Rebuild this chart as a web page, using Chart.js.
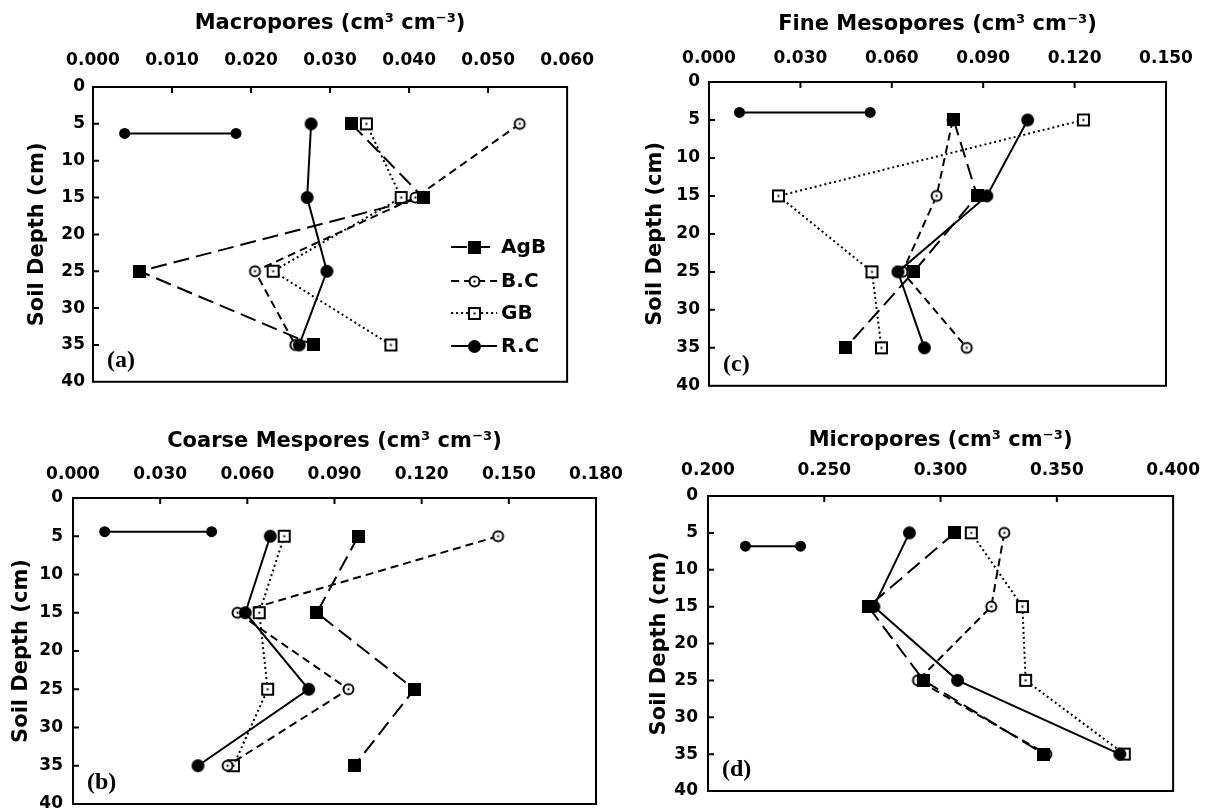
<!DOCTYPE html>
<html>
<head>
<meta charset="utf-8">
<script src="https://cdn.jsdelivr.net/npm/chart.js"></script>
<style>
  body { margin: 0; background: #fff; }
  #wrap { position: relative; width: 1215px; height: 811px; overflow: hidden; background: #fff; }
  canvas { position: absolute; }
</style>
</head>
<body>
<div id="wrap">
  <canvas id="macro"></canvas>
  <canvas id="fine"></canvas>
  <canvas id="coarse"></canvas>
  <canvas id="micro"></canvas>
</div>
<script>
// profundidades (cm) e nomes das séries
const depths = [5, 15, 25, 35];
const serieNames = ['AgB', 'B.C', 'GB', 'R.C'];

// (a) macroporos
const macroAgB = [0.0327, 0.0418, 0.0059, 0.0279];
const macroBC  = [0.0540, 0.0408, 0.0205, 0.0256];
const macroGB  = [0.0346, 0.0390, 0.0228, 0.0377];
const macroRC  = [0.0276, 0.0271, 0.0296, 0.0261];
const macroBar = [0.0040, 0.0181]; // barra LSD
const macroBarDepth = 6.3;

// (b) mesoporos grossos
const coarseAgB = [0.0982, 0.0839, 0.1175, 0.0968];
const coarseBC  = [0.1463, 0.0566, 0.0948, 0.0532];
const coarseGB  = [0.0727, 0.0641, 0.0670, 0.0552];
const coarseRC  = [0.0679, 0.0593, 0.0811, 0.0430];
const coarseBar = [0.0109, 0.0477];
const coarseBarDepth = 4.4;

// (c) mesoporos finos
const fineAgB = [0.0803, 0.0880, 0.0672, 0.0448];
const fineBC  = [0.0800, 0.0747, 0.0635, 0.0846];
const fineGB  = [0.1229, 0.0228, 0.0535, 0.0566];
const fineRC  = [0.1046, 0.0912, 0.0620, 0.0707];
const fineBar = [0.0100, 0.0529];
const fineBarDepth = 4.0;

// (d) microporos
const microAgB = [0.3061, 0.2689, 0.2927, 0.3444];
const microBC  = [0.3274, 0.3218, 0.2903, 0.3455];
const microGB  = [0.3132, 0.3352, 0.3366, 0.3790];
const microRC  = [0.2866, 0.2713, 0.3073, 0.3771];
const microBar = [0.2161, 0.2398];
const microBarDepth = 6.8;

const fonteEixo = "'DejaVu Sans', Arial, sans-serif";

// marcadores desenhados num canvas pequeno (usado como pointStyle)
function makeMarker(kind) {
  const c = document.createElement('canvas');
  const s = kind === 'fsq' ? 13 : 15;
  c.width = s; c.height = s;
  const g = c.getContext('2d');
  const m = s / 2;
  g.fillStyle = '#000'; g.strokeStyle = '#000'; g.lineWidth = 2;
  if (kind === 'fsq') {
    g.fillRect(0, 0, 13, 13);
  } else if (kind === 'fcirc') {
    g.beginPath(); g.arc(m, m, 6.5, 0, Math.PI * 2); g.fill();
  } else if (kind === 'ocirc') {
    g.beginPath(); g.arc(m, m, 5, 0, Math.PI * 2);
    g.fillStyle = '#fff'; g.fill(); g.stroke();
    g.fillStyle = '#000'; g.fillRect(m - 1, m - 1, 2, 2);
  } else if (kind === 'osq') {
    g.fillStyle = '#fff'; g.fillRect(2, 2, 11, 11);
    g.strokeRect(2, 2, 11, 11);
    g.fillStyle = '#000'; g.fillRect(m - 1, m - 1, 2, 2);
  }
  return c;
}

const markers = { fsq: makeMarker('fsq'), ocirc: makeMarker('ocirc'), osq: makeMarker('osq'), fcirc: makeMarker('fcirc') };

// estilo de cada série: marcador, tracejado, ordem de desenho
const estilos = [
  { marker: 'fsq',   dash: [16, 7], order: 0 }, // AgB
  { marker: 'ocirc', dash: [8, 5],  order: 2 }, // B.C
  { marker: 'osq',   dash: [2, 3],  order: 3 }, // GB
  { marker: 'fcirc', dash: [],      order: 1 }  // R.C
];

// moldura, ticks para dentro, letra do painel e legenda
const molduraPlugin = {
  id: 'moldura',
  afterDatasetsDraw(chart, args, opts) {
    const { ctx, chartArea: a, scales } = chart;
    ctx.save();
    ctx.strokeStyle = '#000';
    ctx.lineWidth = 2;
    ctx.setLineDash([]);
    ctx.strokeRect(a.left, a.top, a.right - a.left, a.bottom - a.top);

    ctx.beginPath();
    scales.x.ticks.forEach(t => {
      const px = scales.x.getPixelForValue(t.value);
      if (px > a.left + 3 && px < a.right - 3) { ctx.moveTo(px, a.top); ctx.lineTo(px, a.top + 6); }
    });
    scales.y.ticks.forEach(t => {
      const py = scales.y.getPixelForValue(t.value);
      if (py > a.top + 3 && py < a.bottom - 3) { ctx.moveTo(a.left, py); ctx.lineTo(a.left + 6, py); }
    });
    ctx.stroke();

    // letra do painel
    ctx.fillStyle = '#000';
    ctx.font = "bold 24px 'Liberation Serif', 'Times New Roman', serif";
    ctx.textAlign = 'left';
    ctx.textBaseline = 'middle';
    ctx.fillText(opts.letra, a.left + 14, a.bottom - 21);

    // legenda dentro do gráfico (só no painel a)
    if (opts.legenda) {
      const linhas = [160, 194, 226, 259];
      ctx.font = 'bold 20px ' + fonteEixo;
      serieNames.forEach((nome, i) => {
        const y = a.top + linhas[i];
        ctx.setLineDash(estilos[i].dash);
        ctx.lineWidth = 2;
        ctx.beginPath();
        ctx.moveTo(a.right - 116, y);
        ctx.lineTo(a.right - 70, y);
        ctx.stroke();
        ctx.setLineDash([]);
        const mk = markers[estilos[i].marker];
        ctx.drawImage(mk, Math.round(a.right - 93 - mk.width / 2), Math.round(y - mk.height / 2));
        ctx.fillText(nome, a.right - 66, y + 1);
      });
    }
    ctx.restore();
  }
};

function pontos(vals) {
  return depths.map((d, i) => ({ x: vals[i], y: d }));
}

function makePanel(id, pos, area, cfg) {
  const cv = document.getElementById(id);
  cv.width = pos.w;
  cv.height = pos.h;
  cv.style.left = pos.x + 'px';
  cv.style.top = pos.y + 'px';

  const datasets = cfg.series.map((vals, i) => ({
    label: serieNames[i],
    data: pontos(vals),
    showLine: true,
    borderColor: '#000',
    backgroundColor: '#000',
    borderWidth: 2,
    borderDash: estilos[i].dash,
    pointStyle: markers[estilos[i].marker],
    pointRadius: 6,
    order: estilos[i].order
  }));

  // barra LSD
  datasets.push({
    label: 'LSD',
    data: cfg.bar.map(v => ({ x: v, y: cfg.barDepth })),
    showLine: true,
    borderColor: '#000',
    backgroundColor: '#000',
    borderWidth: 2,
    pointStyle: 'circle',
    pointRadius: 4.5,
    order: 5
  });

  new Chart(cv, {
    type: 'scatter',
    data: { datasets: datasets },
    options: {
      responsive: false,
      animation: false,
      devicePixelRatio: 1,
      layout: { padding: { left: 0, top: 0, right: pos.w - area.right, bottom: pos.h - area.bottom } },
      plugins: {
        legend: { display: false },
        tooltip: { enabled: false },
        moldura: { letra: cfg.letra, legenda: !!cfg.legenda }
      },
      scales: {
        x: {
          type: 'linear',
          position: 'top',
          min: cfg.xmin,
          max: cfg.xmax,
          grid: { display: false, drawTicks: false },
          border: { display: false },
          ticks: {
            stepSize: cfg.step,
            padding: cfg.xTickPad,
            color: '#000',
            font: { family: fonteEixo, size: 17, weight: 'bold' },
            callback: v => v.toFixed(3)
          },
          title: {
            display: true,
            text: cfg.titulo,
            color: '#000',
            font: { family: fonteEixo, size: 21, weight: 'bold' },
            padding: { top: cfg.titlePad, bottom: 0 }
          },
          afterFit: s => { s.height = area.top; }
        },
        y: {
          type: 'linear',
          reverse: true,
          min: 0,
          max: 40,
          grid: { display: false, drawTicks: false },
          border: { display: false },
          ticks: {
            stepSize: 5,
            padding: cfg.yTickPad,
            color: '#000',
            font: { family: fonteEixo, size: 17, weight: 'bold' }
          },
          title: {
            display: true,
            text: 'Soil Depth (cm)',
            color: '#000',
            font: { family: fonteEixo, size: 21, weight: 'bold' },
            padding: { top: cfg.yTitlePad, bottom: 0 }
          },
          afterFit: s => { s.width = area.left; }
        }
      }
    },
    plugins: [molduraPlugin]
  });
}

makePanel('macro', { x: 0, y: 0, w: 610, h: 400 }, { left: 93, top: 87, right: 576, bottom: 387 }, {
  series: [macroAgB, macroBC, macroGB, macroRC], bar: macroBar, barDepth: macroBarDepth,
  xmin: 0, xmax: 0.06, step: 0.01, titulo: 'Macropores (cm³ cm⁻³)',
  titlePad: 11, yTitlePad: 25, xTickPad: 16, yTickPad: 8, letra: '(a)', legenda: true
});

makePanel('fine', { x: 615, y: 0, w: 600, h: 405 }, { left: 94, top: 82, right: 551, bottom: 392 }, {
  series: [fineAgB, fineBC, fineGB, fineRC], bar: fineBar, barDepth: fineBarDepth,
  xmin: 0, xmax: 0.15, step: 0.03, titulo: 'Fine Mesopores (cm³ cm⁻³)',
  titlePad: 12, yTitlePad: 28, xTickPad: 13, yTickPad: 9, letra: '(c)'
});

makePanel('coarse', { x: 0, y: 405, w: 640, h: 420 }, { left: 73, top: 93, right: 596, bottom: 399 }, {
  series: [coarseAgB, coarseBC, coarseGB, coarseRC], bar: coarseBar, barDepth: coarseBarDepth,
  xmin: 0, xmax: 0.18, step: 0.03, titulo: 'Coarse Mespores (cm³ cm⁻³)',
  titlePad: 24, yTitlePad: 9, xTickPad: 13, yTickPad: 10, letra: '(b)'
});

makePanel('micro', { x: 620, y: 405, w: 595, h: 420 }, { left: 88, top: 91, right: 565, bottom: 386 }, {
  series: [microAgB, microBC, microGB, microRC], bar: microBar, barDepth: microBarDepth,
  xmin: 0.2, xmax: 0.4, step: 0.05, titulo: 'Micropores (cm³ cm⁻³)',
  titlePad: 23, yTitlePad: 27, xTickPad: 15, yTickPad: 10, letra: '(d)'
});
</script>
</body>
</html>
